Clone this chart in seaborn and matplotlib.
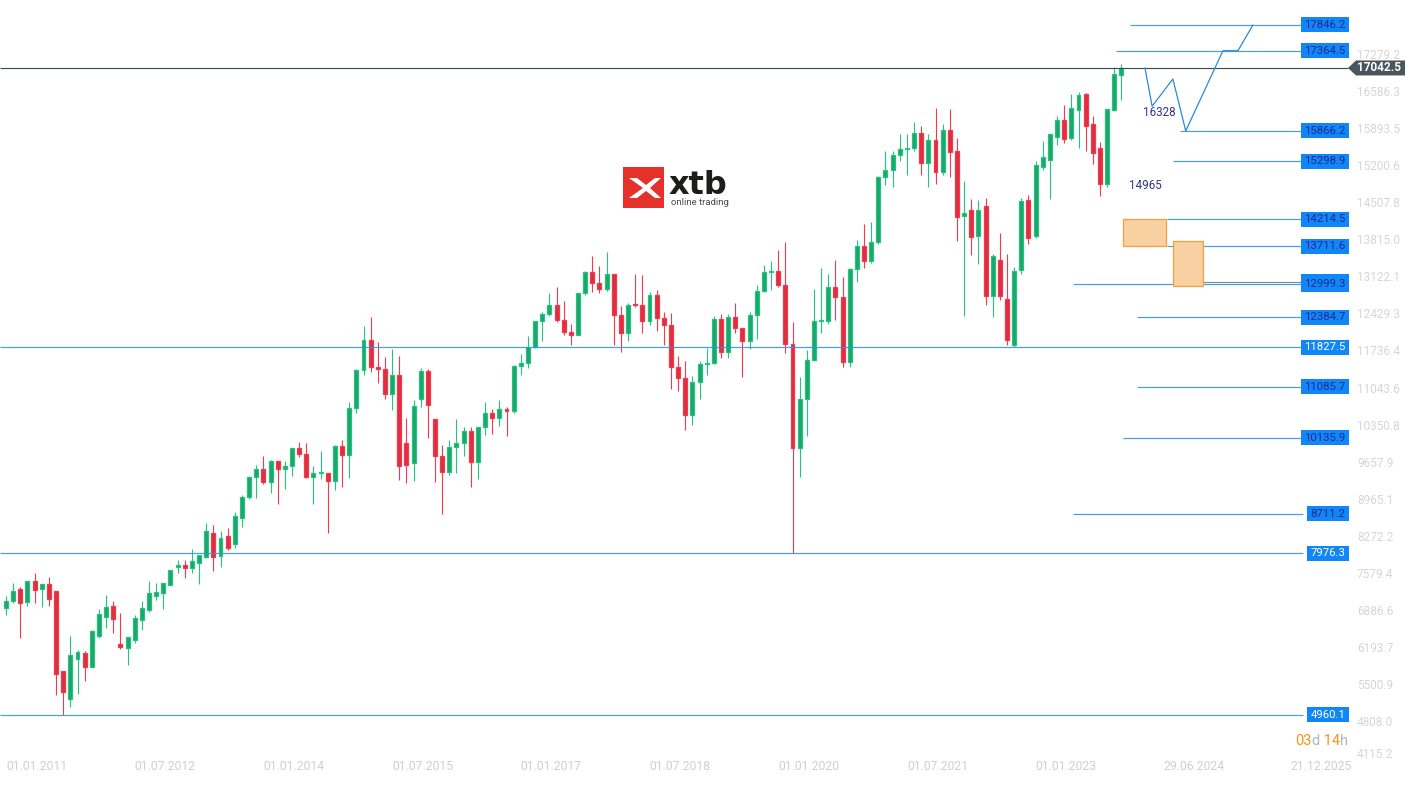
import numpy as np
import pandas as pd
import seaborn as sns
import matplotlib.pyplot as plt
from matplotlib.patches import Rectangle, Polygon

# DE30 monthly candles, Jan 2011 -> Jan 2024 (one row per year)
opens = [
    6954, 7091, 7315, 7072, 7464, 7315, 7408, 7277, 5770, 5260, 6007, 6107,
    5858, 6437, 6792, 6985, 6275, 6206, 6362, 6729, 6922, 7184, 7234, 7390,
    7720, 7763, 7701, 7794, 7906, 8361, 7931, 8305, 8156, 8640, 9021, 9405,
    9552, 9306, 9692, 9556, 9603, 9943, 9833, 9407, 9470, 9474, 9327, 9980,
    9806, 10694, 11401, 11966, 11454, 11413, 10945, 11308, 10030, 9663, 10850, 11382,
    10485, 9798, 9495, 9966, 10039, 10262, 9680, 10337, 10592, 10511, 10665, 10640,
    11481, 11535, 11834, 12313, 12438, 12615, 12325, 12118, 12056, 12829, 13230, 13024,
    12918, 13189, 12436, 12097, 12612, 12605, 12306, 12806, 12364, 12247, 11447, 11257,
    10559, 11173, 11516, 11526, 12344, 11727, 12399, 12189, 11939, 12428, 12867, 13236,
    13249, 12981, 11890, 9936, 10862, 11587, 12311, 12313, 12945, 12761, 11556, 13291,
    13719, 13433, 13786, 15008, 15136, 15421, 15531, 15544, 15835, 15261, 15688, 15100,
    15885, 15500, 14283, 14383, 13904, 14470, 12789, 13462, 12733, 11867, 13274, 14582,
    13904, 15185, 15320, 15747, 16065, 15728, 16265, 16550, 15990, 15540, 14870, 16252,
    16905,
]
highs = [
    7172, 7414, 7340, 7452, 7601, 7408, 7527, 7277, 5770, 6424, 6175, 6144,
    6536, 6941, 7190, 7078, 6854, 6418, 6817, 7078, 7452, 7414, 7414, 7670,
    7844, 7844, 8062, 7938, 8535, 8498, 8386, 8442, 8741, 9071, 9420, 9620,
    9795, 9720, 9700, 9700, 9950, 10050, 10030, 9610, 9890, 9480, 9990, 10093,
    10810, 11410, 12220, 12390, 11920, 11635, 11800, 11670, 10500, 10830, 11430, 11420,
    10490, 9990, 10100, 10475, 10330, 10330, 10340, 10800, 10680, 10830, 10710, 11490,
    11690, 12030, 12320, 12480, 12840, 12950, 12680, 12250, 12840, 13250, 13530, 13340,
    13597, 13200, 12600, 12650, 13200, 13170, 12860, 12890, 12480, 12460, 11670, 11560,
    11290, 11560, 11820, 12400, 12440, 12440, 12660, 12190, 12490, 12990, 13370, 13430,
    13640, 13795, 12290, 11260, 11780, 12910, 13310, 13200, 13460, 13130, 13310, 13820,
    14130, 14170, 15030, 15500, 15500, 15800, 15800, 16030, 15950, 15800, 16290, 16000,
    16285, 15740, 14930, 14600, 14580, 14620, 13560, 13950, 13570, 13330, 14620, 14663,
    15311, 15672, 15810, 16140, 16345, 16556, 16594, 16582, 16140, 15660, 16270, 17055,
    17111,
]
lows = [
    6829, 7047, 6393, 6985, 7047, 6972, 6991, 5334, 4960, 5104, 5347, 5596,
    5858, 6393, 6580, 6487, 6194, 5889, 6300, 6543, 6879, 7103, 6935, 7390,
    7607, 7514, 7607, 7402, 7888, 7651, 7713, 8040, 8075, 8467, 8990, 9000,
    9270, 9100, 8900, 9170, 9420, 9770, 9390, 8900, 9370, 8355, 9160, 9220,
    9380, 10600, 11310, 11360, 11150, 10860, 10650, 9340, 9290, 9330, 10710, 10125,
    9315, 8700, 9440, 9480, 9800, 9215, 9370, 10180, 10200, 10350, 10175, 10600,
    11300, 11440, 11820, 11940, 12400, 12300, 12050, 11870, 12050, 12800, 12850, 12840,
    12880, 11870, 11730, 11950, 12570, 12100, 12240, 12130, 11860, 11050, 11010, 10280,
    10380, 10860, 11300, 11520, 11620, 11620, 12100, 11265, 11800, 11970, 12860, 12890,
    12950, 11720, 7976, 9400, 10160, 11560, 12100, 12250, 12340, 11450, 11450, 13040,
    13310, 13400, 13760, 14850, 14820, 15300, 15050, 15490, 15050, 14820, 14880, 15050,
    15000, 13810, 12415, 13550, 13380, 12620, 12390, 12700, 11860, 11830, 13200, 13754,
    13866, 15143, 14589, 15610, 15645, 15704, 15548, 15485, 15248, 14645, 14820, 16233,
    16438,
]
closes = [
    7090, 7277, 7053, 7452, 7290, 7408, 7122, 5727, 5390, 6082, 6125, 5851,
    6518, 6848, 6966, 6748, 6219, 6418, 6761, 6947, 7228, 7259, 7414, 7657,
    7763, 7701, 7826, 7938, 8386, 7906, 8255, 8081, 8666, 9021, 9395, 9552,
    9306, 9692, 9556, 9603, 9943, 9833, 9407, 9470, 9474, 9327, 9980, 9806,
    10694, 11401, 11966, 11454, 11413, 10945, 11308, 9610, 9631, 10721, 11382, 10743,
    9798, 9495, 9966, 10039, 10262, 9680, 10337, 10592, 10511, 10665, 10640, 11481,
    11535, 11834, 12313, 12438, 12615, 12325, 12118, 12056, 12829, 13230, 13024, 12918,
    13189, 12436, 12097, 12612, 12605, 12306, 12806, 12364, 12247, 11447, 11257, 10559,
    11173, 11516, 11526, 12344, 11727, 12399, 12189, 11939, 12428, 12867, 13236, 13249,
    12981, 11890, 9936, 10862, 11587, 12311, 12313, 12945, 12761, 11556, 13291, 13719,
    13433, 13786, 15008, 15136, 15421, 15531, 15544, 15835, 15261, 15688, 15100, 15885,
    15471, 14260, 14340, 13891, 14396, 12789, 13536, 12789, 11967, 13256, 14564, 13872,
    15236, 15370, 15800, 16065, 15710, 16289, 16545, 15950, 15450, 14870, 16270, 16924,
    17042.5,
]

# support / resistance levels drawn on the right
levels = [17846.2, 17364.5, 15866.2, 15298.9, 14214.5, 13711.6, 12999.3,
          12384.7, 11827.5, 11085.7, 10135.9, 8711.2, 7976.3, 4960.1]
level_start = [157.2, 155.2, 164.2, 163.2, 162.4, 162.4, 149.2,
               158.2, None, 158.2, 156.2, 149.2, None, None]
white_text_levels = [11827.5, 7976.3, 4960.1]
last_price = 17042.5

# orange zones (top, bottom) and their month span
zone_top = [14214.5, 13804.0]
zone_bottom = [13711.6, 12963.0]
zone_span = [(156.2, 162.2), (163.2, 167.4)]

# projected path
path_month = [159.3, 160.3, 163.2, 165.0, 170.2, 172.3, 174.4]
path_price = [17042.5, 16328, 16836, 15866.2, 17364.5, 17364.5, 17846.2]
path_notes = [(159.0, 16328, '16328'), (157.0, 14965, '14965')]

price_ticks = [17279.2, 16586.3, 15893.5, 15200.6, 14507.8, 13815.0, 13122.1,
               12429.3, 11736.4, 11043.6, 10350.8, 9657.9, 8965.1, 8272.2,
               7579.4, 6886.6, 6193.7, 5500.9, 4808.0, 4115.2]
date_ticks = ['01.01.2011', '01.07.2012', '01.01.2014', '01.07.2015',
              '01.01.2017', '01.07.2018', '01.01.2020', '01.07.2021',
              '01.01.2023', '29.06.2024', '21.12.2025']

# ---- pixel helpers (layout of the 1417x785 canvas) ----
W, H = 1417, 785
PPM = 7.15          # pixels per month
PRICE_PX = 18.683   # price per pixel


def px_x(px):
    return (px - 6) / PPM


def py(px):
    return 17279.2 - (px - 55.3) * PRICE_PX


sns.set_style('white')
plt.rcParams['font.family'] = ['Roboto', 'DejaVu Sans']

fig = plt.figure(figsize=(W / 100, H / 100), dpi=100)
ax = fig.add_axes([0, 0, 1, 1])
ax.set_xlim(px_x(0), px_x(W))
ax.set_ylim(py(H), py(0))
ax.axis('off')

df = pd.DataFrame({'open': opens, 'high': highs, 'low': lows, 'close': closes})
df['i'] = np.arange(len(df))
up = df['close'] >= df['open']

green_edge, green_fill = '#22c47f', '#1ea56c'
red_edge, red_fill = '#f5384b', '#dc2f41'
edge = np.where(up, green_edge, red_edge)
fill = np.where(up, green_fill, red_fill)

ax.vlines(df['i'], df['low'], df['high'], colors=edge, lw=0.8, zorder=2)
body_lo = df[['open', 'close']].min(axis=1)
body_h = (df['close'] - df['open']).abs().clip(lower=22)
ax.bar(df['i'], body_h, bottom=body_lo, width=0.55, color=fill,
       edgecolor=edge, linewidth=0.9, zorder=3)

# level lines + labels
blue = '#2b93ef'
box_blue = '#1186f7'
line_end = px_x(1303)
for lv, st in zip(levels, level_start):
    x0 = px_x(0) if st is None else st
    ax.hlines(lv, x0, line_end, color=blue, lw=0.85, alpha=0.9, zorder=4)

# hidden level just above 12999.3
ax.hlines(13045, 166.3, line_end, color='#7d8a96', lw=0.8, zorder=4)
ax.add_patch(Rectangle((px_x(1301), 13045 - 7.5 * PRICE_PX), px_x(1349) - px_x(1301),
                       15 * PRICE_PX, fc=box_blue, ec='none', zorder=5))

for lv in levels:
    txt = f'{lv:.1f}'
    left = 1301 if len(txt) == 7 else 1307
    ax.add_patch(Rectangle((px_x(left), lv - 7.5 * PRICE_PX), px_x(1349) - px_x(left),
                           15 * PRICE_PX, fc=box_blue, ec='none', zorder=6))
    col = 'white' if lv in white_text_levels else '#1b2a94'
    ax.text((px_x(left) + px_x(1349)) / 2, lv, txt, ha='center', va='center',
            fontsize=8.2, color=col, zorder=7)

# orange zones
for top, bot, (a, b) in zip(zone_top, zone_bottom, zone_span):
    ax.add_patch(Rectangle((a, bot), b - a, top - bot, fc='#f9d0a2', ec='#f5a03c',
                           lw=0.9, zorder=5))

# projection path
sns.lineplot(x=path_month, y=path_price, ax=ax, sort=False, estimator=None,
             color='#2a8ad6', lw=0.9, zorder=5)
for mx, pr, txt in path_notes:
    ax.annotate(txt, (mx, pr), xytext=(0, -4.4), textcoords='offset points',
                ha='left', va='center', fontsize=8.4, color='#2f3486', zorder=6)

# last price line and tag
ax.hlines(last_price, px_x(0), px_x(1348), color='#3b4850', lw=0.8, zorder=4)
hh = 7.5 * PRICE_PX
tag = [(px_x(1348), last_price), (px_x(1356), last_price + hh), (px_x(1405), last_price + hh),
       (px_x(1405), last_price - hh), (px_x(1356), last_price - hh)]
ax.add_patch(Polygon(tag, closed=True, fc='#4a555c', ec='none', zorder=6))
ax.text(px_x(1357), last_price, f'{last_price:.1f}', ha='left', va='center',
        fontsize=8.5, color='white', fontweight='bold', zorder=7)

# price scale
for t in price_ticks:
    ty = max(t, py(754))
    ax.text(px_x(1357), ty, f'{t:.1f}', ha='left', va='center', fontsize=8.5,
            color='#d6d6d6')

# date scale
for lab in date_ticks:
    d = pd.to_datetime(lab, format='%d.%m.%Y')
    pos = (d.year - 2011) * 12 + (d.month - 1) + (d.day - 1) / d.days_in_month
    ax.text(pos, py(767), lab, ha='left', va='center', fontsize=8.7, color='#cfcfcf')

# candle countdown
orange, grey = '#f7941d', '#b0b6bb'
t1 = ax.text(px_x(1295), py(741), '03', ha='left', va='center', fontsize=10.5, color=orange)
t2 = ax.annotate('d', xy=(1, 0), xycoords=t1, va='bottom', ha='left', fontsize=10.5, color=grey)
t3 = ax.annotate(' 14', xy=(1, 0), xycoords=t2, va='bottom', ha='left', fontsize=10.5, color=orange)
ax.annotate('h', xy=(1, 0), xycoords=t3, va='bottom', ha='left', fontsize=10.5, color=grey)

# xtb logo
fx = lambda p: p / W
fy = lambda p: 1 - p / H
fig.add_artist(Rectangle((fx(623), fy(208)), 41 / W, 41 / H, transform=fig.transFigure,
                         fc='#e4312a', ec='none'))
logo_x = [(629, 178), (643, 188), (629, 198), (637, 198), (646, 191), (655, 198),
          (661, 198), (650, 188), (661, 178), (655, 178), (646, 185), (637, 178)]
fig.add_artist(Polygon([(fx(a), fy(b)) for a, b in logo_x], closed=True,
                       transform=fig.transFigure, fc='white', ec='none'))
fig.text(fx(669), fy(194), 'xtb', fontsize=23, fontweight='bold', color='#1d1d1b',
         family='DejaVu Sans', va='baseline', ha='left')
fig.text(fx(671), fy(205), 'online trading', fontsize=6.8, color='#4a4a4a',
         va='baseline', ha='left')

plt.savefig('out.png', dpi=100)
